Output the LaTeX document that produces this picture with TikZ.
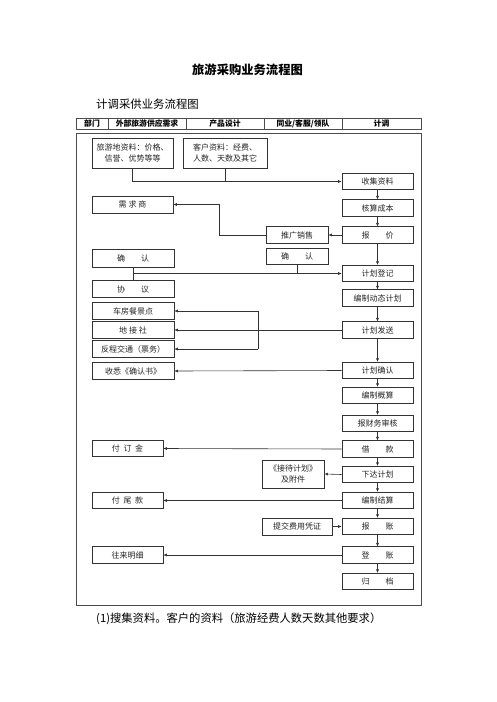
\documentclass[tikz,border=0pt]{standalone}
\usepackage{fontspec}
\setmainfont{Noto Sans CJK SC}
\usetikzlibrary{arrows.meta}
\begin{document}
\begin{tikzpicture}[x=1pt,y=-1pt,
  box/.style={draw=black!80, line width=0.6pt, rectangle, inner sep=0pt, font=\fontsize{8}{10.5}\selectfont, text=black!85, align=center},
  rbox/.style={box, minimum width=71pt, minimum height=16.5pt},
  lbox/.style={box, minimum width=82pt, minimum height=16.5pt},
  pbox/.style={box, minimum width=71pt, minimum height=16.5pt},
  mbox/.style={box, minimum width=62pt, minimum height=16.5pt},
  conn/.style={draw=black!80, line width=0.6pt},
  arr/.style={conn, -{Latex[length=3.5pt,width=3pt]}},
  frame/.style={draw=black!70, line width=0.6pt},
  head/.style={font=\fontsize{7.8}{9}\selectfont\bfseries, inner sep=0pt}
]
\useasboundingbox (0,0) rectangle (496,702);
\fill[white] (0,0) rectangle (496,702);

% titles
\node[font=\fontsize{12.3}{14}\selectfont\bfseries, inner sep=0pt] (title) at (247.5,70) {旅游采购业务流程图};
\node[font=\fontsize{11.4}{13}\selectfont, inner sep=0pt, anchor=west] (sub) at (96,104.5) {计调采供业务流程图};

% header
\draw[frame] (76,118) rectangle (421,129);
\foreach \xx in {108,186,264,342} \draw[frame] (\xx,118) -- (\xx,129);
\node[head] (h1) at (92,123.5) {部门};
\node[head] (h2) at (147,123.5) {外部旅游供应需求};
\node[head] (h3) at (225,123.5) {产品设计};
\node[head] (h4) at (303,123.5) {同业/客服/领队};
\node[head] (h5) at (381.5,123.5) {计调};

% main frame
\draw[frame] (76,133) rectangle (421,605);

% source boxes
\node[box, minimum width=81pt, minimum height=30pt] (src1) at (132.5,153) {旅游地资料：价格、\\信誉、优势等等};
\node[box, minimum width=84pt, minimum height=30pt] (src2) at (225,153) {客户资料：经费、\\人数、天数及其它};

% right column
\node[rbox] (r1) at (377.5,181.5) {收集资料};
\node[rbox] (r2) at (377.5,208) {核算成本};
\node[rbox] (r3) at (377.5,235) {报\quad\quad 价};
\node[rbox] (r4) at (377.5,273.5) {计划登记};
\node[rbox] (r5) at (377.5,298) {编制动态计划};
\node[rbox] (r6) at (377.5,330) {计划发送};
\node[rbox] (r7) at (377.5,370.5) {计划确认};
\node[rbox] (r8) at (377.5,395.5) {编制概算};
\node[rbox] (r9) at (377.5,423.5) {报财务审核};
\node[rbox] (r10) at (377.5,449) {借\quad\quad 款};
\node[rbox] (r11) at (377.5,474.5) {下达计划};
\node[rbox] (r12) at (377.5,500.5) {编制结算};
\node[rbox] (r13) at (377.5,526.5) {报\quad\quad 账};
\node[rbox] (r14) at (377.5,555) {登\quad\quad 账};
\node[rbox] (r15) at (377.5,581.5) {归\quad\quad 档};

% middle column
\node[mbox] (m1) at (297,235) {推广销售};
\node[mbox] (m2) at (297,256.5) {确\quad\quad 认};
\node[box, minimum width=62pt, minimum height=28pt, line width=0.9pt] (m3) at (293,474) {《接待计划》\\及附件};
\node[box, minimum width=70pt, minimum height=17pt, line width=0.8pt] (m4) at (297,526.5) {提交费用凭证};

% left column
\node[box, minimum width=81pt, minimum height=17pt] (l1) at (132.5,204.5) {需\ 求\ 商};
\node[lbox, minimum height=18pt] (l2) at (133,258) {确\quad\quad 认};
\node[lbox] (l3) at (133,289) {协\quad\quad 议};
\node[lbox] (l4) at (133,311) {车房餐景点};
\node[lbox] (l5) at (133,330) {地\ 接\ 社};
\node[lbox] (l6) at (133,349) {反程交通（票务）};
\node[lbox] (l7) at (133,371) {收悉《确认书》};
\node[pbox] (l8) at (127.5,448.5) {付\ \ 订\ \ 金};
\node[pbox] (l9) at (127.5,500.5) {付\ \ 尾\ \ 款};
\node[pbox] (l10) at (127.5,555) {往来明细};

% coordinates
\coordinate (j1) at (219,235);
\coordinate (j2) at (219,204.5);
\coordinate (j3) at (133,273.5);
\coordinate (j4) at (258,311);
\coordinate (j5) at (258,349);

% connectors
\draw[arr] (src1.south) |- (r1.west);
\draw[conn] (src2.south) -- (src2.south |- r1.west);
\foreach \a/\b in {r1/r2,r2/r3,r3/r4,r4/r5,r5/r6,r6/r7,r7/r8,r8/r9,r9/r10,r10/r11,r11/r12,r12/r13,r13/r14,r14/r15}
  \draw[arr] (\a.south) -- (\b.north);
\draw[arr] (r3.west) -- (m1.east);
\draw[arr] (m1.west) -- (j1) -- (j2) -- (l1.east);
\draw[conn] (l2.south) -- (l3.north);
\draw[arr] (j3) -- (r4.west);
\draw[conn] (m2.south) -- (m2.south |- r4.west);
\draw[arr] (r6.west) -- (l5.east);
\draw[conn] (j4) -- (j5);
\draw[arr] (j4) -- (l4.east);
\draw[arr] (j5) -- (l6.east);
\draw[arr] (r7.west) -- (l7.east);
\draw[arr] (r10.west) -- (l8.east);
\draw[arr] (r11.west) -- (m3.east);
\draw[arr] (r12.west) -- (l9.east);
\draw[arr] (m4.east) -- (r13.west);
\draw[arr] (r14.west) -- (l10.east);

% bottom text
\node[font=\fontsize{11.3}{13}\selectfont, inner sep=0pt, anchor=west] (note) at (96,618.5) {(1)搜集资料。客户的资料（旅游经费人数天数其他要求）};
\end{tikzpicture}
\end{document}
